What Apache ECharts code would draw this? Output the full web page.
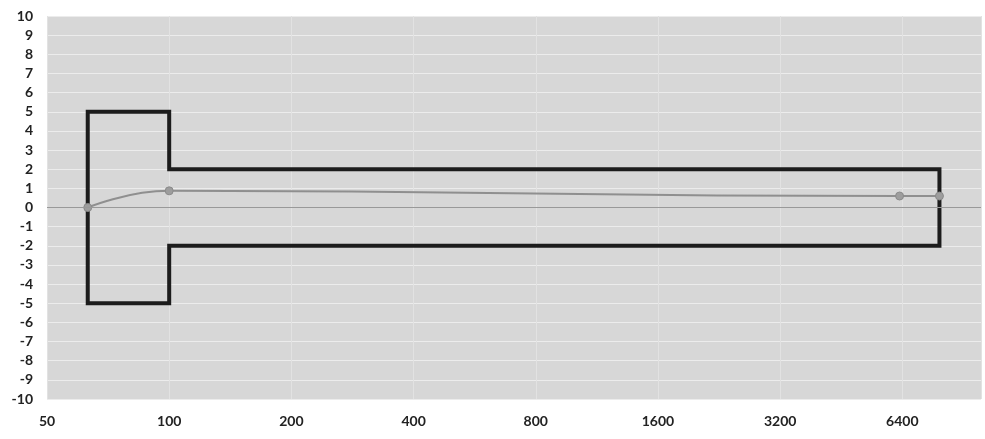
<!DOCTYPE html>
<html>
<head>
<meta charset="utf-8">
<script src="https://cdn.jsdelivr.net/npm/echarts@6/dist/echarts.min.js"></script>
<style>
  html, body { margin: 0; padding: 0; background: #fff; }
  #chart { width: 985px; height: 439px; }
</style>
</head>
<body>
<div id="chart"></div>
<script>
// x is on a base-2 log scale that starts at 50
const xBase = 50;
const xMax = 10000;
const xTicks = [50, 100, 200, 400, 800, 1600, 3200, 6400];

// T-shaped outline (black)
const shapeX = [63, 100, 100, 7900, 7900, 100, 100, 63, 63];
const shapeY = [5, 5, 2, 2, -2, -2, -5, -5, 5];

// grey curve with markers
const curveX = [63, 100, 6300, 7900];
const curveY = [0, 0.87, 0.6, 0.6];

const yMin = -10;
const yMax = 10;

function toLog(v) {
  return Math.log2(v / xBase);
}

function pairs(xs, ys) {
  let out = [];
  for (let i = 0; i < xs.length; i++) {
    out.push([toLog(xs[i]), ys[i]]);
  }
  return out;
}

const chart = echarts.init(document.getElementById('chart'));

const labelFont = {
  fontFamily: 'Lato',
  fontWeight: 'bold',
  fontSize: 14,
  color: '#222'
};

const option = {
  animation: false,
  grid: {
    left: 47,
    right: 4,
    top: 16,
    bottom: 40,
    show: true,
    backgroundColor: '#d7d7d7',
    borderWidth: 0
  },
  xAxis: {
    type: 'value',
    min: 0,
    max: toLog(xMax),
    interval: 1,
    axisLine: {show: false, onZero: false},
    axisTick: {show: false},
    splitLine: {show: true, lineStyle: {color: '#e2e2e2', width: 1}},
    axisLabel: Object.assign({
      margin: 15,
      showMaxLabel: false,
      formatter: function (v) {
        const r = Math.round(v);
        if (Math.abs(v - r) > 1e-6) return '';
        const val = xBase * Math.pow(2, r);
        return xTicks.indexOf(val) >= 0 ? String(val) : '';
      }
    }, labelFont)
  },
  yAxis: {
    type: 'value',
    min: yMin,
    max: yMax,
    interval: 1,
    axisLine: {show: false},
    axisTick: {show: false},
    splitLine: {show: true, lineStyle: {color: '#ececec', width: 1}},
    axisLabel: Object.assign({margin: 14}, labelFont)
  },
  series: [
    {
      name: 'outline',
      type: 'line',
      data: pairs(shapeX, shapeY),
      showSymbol: false,
      lineStyle: {color: '#1c1c1c', width: 4, join: 'miter', cap: 'square'},
      z: 3,
      markLine: {
        silent: true,
        symbol: 'none',
        label: {show: false},
        lineStyle: {color: '#999', width: 1, type: 'solid'},
        data: [{yAxis: 0}]
      }
    },
    {
      name: 'curve',
      type: 'line',
      data: pairs(curveX, curveY),
      smooth: 0.5,
      symbol: 'circle',
      symbolSize: 8,
      showSymbol: true,
      lineStyle: {color: '#8f8f8f', width: 2},
      itemStyle: {color: '#9d9d9d', borderColor: '#8a8a8a', borderWidth: 1},
      z: 4
    }
  ]
};

chart.setOption(option);
</script>
</body>
</html>
